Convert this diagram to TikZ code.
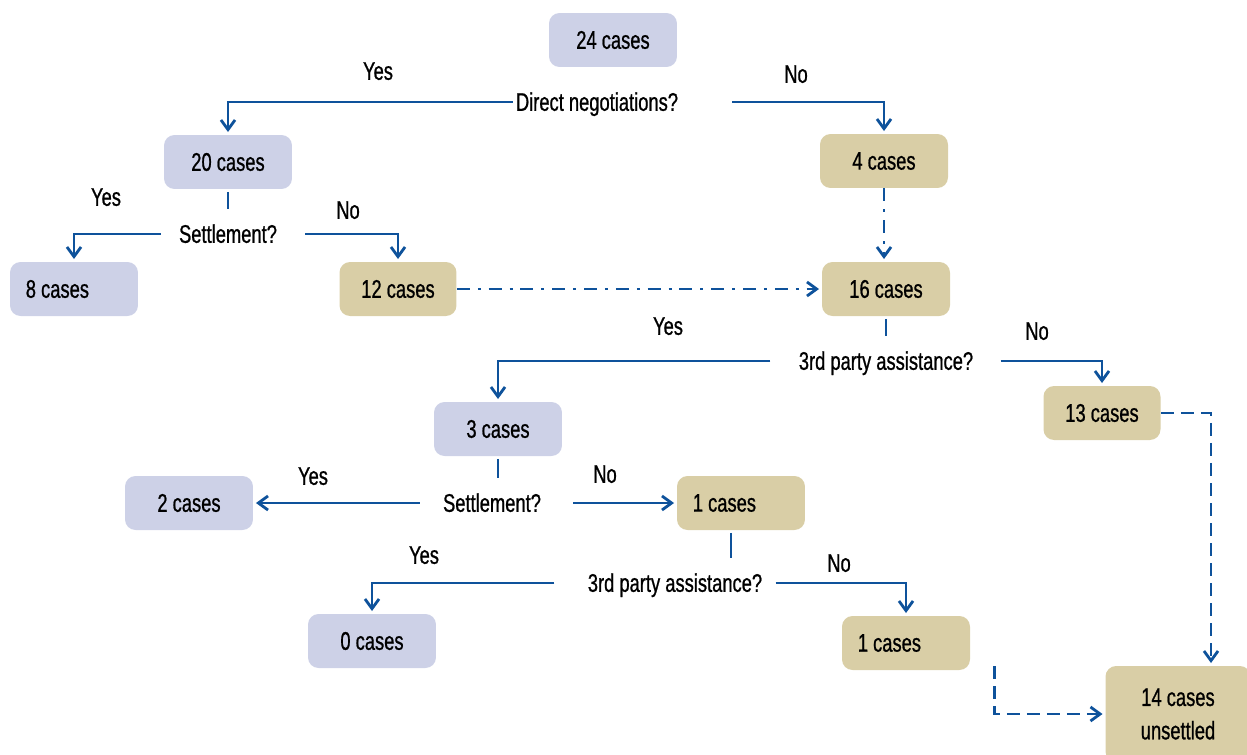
\documentclass[tikz,border=0pt]{standalone}
\usepackage{fontspec}
\setmainfont{Liberation Sans}[FakeStretch=0.72,FakeBold=0.8]
\usepackage{xcolor}
\definecolor{ColA}{RGB}{205,209,231}
\definecolor{ColB}{RGB}{217,206,166}
\definecolor{ColE}{RGB}{14,82,155}
\usepackage{tikz}
\usetikzlibrary{arrows.meta}
\usetikzlibrary{calc}
\tikzstyle{Box}=[rounded corners=6pt,minimum width=2.56cm,minimum height=1.08cm,
inner sep=0pt,font=\fontsize{14.5}{17}\selectfont]
\tikzstyle{BoxA}=[Box,fill=ColA]
\tikzstyle{BoxB}=[Box,fill=ColB]
\tikzstyle{Quest}=[inner sep=0pt,text height=10pt,text depth=0pt,
font=\fontsize{14.5}{17}\selectfont]
\tikzstyle{Answer}=[Quest]
\tikzstyle{Stub}=[draw=ColE,line width=1.6pt]
\tikzstyle{Edge}=[Stub,shorten >=1.5pt,-{Straight Barb[length=5.5pt,width=8pt]}]
\tikzstyle{EdgeDD}=[Edge,dash pattern=on 7.4pt off 4.5pt on 1.7pt off 4.5pt]
\tikzstyle{EdgeD}=[Edge,dash pattern=on 7.4pt off 4pt]

\begin{document}
\begin{tikzpicture}[x=0.02cm,y=-0.02cm]
    \useasboundingbox (0,0) rectangle (1247,754);
    % boxes
    \node[BoxA](n24)at(613,40){24 cases};
    \node[BoxA](n20)at(228,162){20 cases};
    \node[BoxB](n4)at(884,161){4 cases};
    \node[BoxA](n8)at(74,289){8 cases\hspace*{1.3em}};
    \node[BoxB,minimum width=2.34cm](n12)at(398,289){12 cases};
    \node[BoxB](n16)at(886,289){16 cases};
    \node[BoxA](n3)at(498,429){3 cases};
    \node[BoxB,minimum width=2.34cm](n13)at(1102,413){13 cases};
    \node[BoxA](n2)at(189,503){2 cases};
    \node[BoxB](n1a)at(741,503){1 cases\hspace*{1.3em}};
    \node[BoxA](n0)at(372,641){0 cases};
    \node[BoxB](n1b)at(906,643){1 cases\hspace*{1.3em}};
    \node[BoxB,minimum width=2.9cm,minimum height=1.92cm,align=center,
        font=\fontsize{14.5}{19}\selectfont](n14)at(1178,714){14 cases\\unsettled};
    % questions
    \node[Quest](q1)at(597,102){Direct negotiations?};
    \node[Quest](q2)at(228,234){Settlement?};
    \node[Quest](q3)at(886,361){3rd party assistance?};
    \node[Quest](q4)at(492,503){Settlement?};
    \node[Quest](q5)at(675,583){3rd party assistance?};
    % answers
    \node[Answer](y1)at(378,71){Yes};
    \node[Answer](o1)at(796,74){No};
    \node[Answer](y2)at(106,197){Yes};
    \node[Answer](o2)at(348,210){No};
    \node[Answer](y3)at(668,326){Yes};
    \node[Answer](o3)at(1037,331){No};
    \node[Answer](y4)at(313,476){Yes};
    \node[Answer](o4)at(605,474){No};
    \node[Answer](y5)at(424,555){Yes};
    \node[Answer](o5)at(839,563){No};
    % stubs
    \draw[Stub,shorten <=1.5pt,shorten >=9pt](n20.south)--(n20.south |- q2.north);
    \draw[Stub,shorten <=1.5pt,shorten >=9pt](n16.south)--(n16.south |- q3.north);
    \draw[Stub,shorten <=1.5pt,shorten >=9pt](n3.south)--(n3.south |- q4.north);
    \draw[Stub,shorten <=1.5pt,shorten >=9pt]($(n1a.south)+(-10,0)$)--($(n1a.south |- q5.north)+(-10,0)$);
    % edges
    \draw[Edge]($(q1.west)+(-3,0)$)-|(n20.north);
    \draw[Edge]($(q1.east)+(54,0)$)-|(n4.north);
    \draw[Edge]($(q2.west)+(-18,0)$)-|(n8.north);
    \draw[Edge]($(q2.east)+(28,0)$)-|(n12.north);
    \draw[Edge]($(q3.west)+(-28,0)$)-|(n3.north);
    \draw[Edge]($(q3.east)+(27,0)$)-|(n13.north);
    \draw[Edge]($(q4.west)+(-23,0)$)--(q4.west -| n2.east);
    \draw[Edge]($(q4.east)+(32,0)$)--(q4.east -| n1a.west);
    \draw[Edge]($(q5.west)+(-33,0)$)-|(n0.north);
    \draw[Edge]($(q5.east)+(13,0)$)-|(n1b.north);
    \draw[EdgeDD](n12.east)--(n16.west);
    \draw[EdgeDD](n4.south)--(n4.south |- n16.north);
    \draw[EdgeD](n13.east)-|($(n14.north)+(33,0)$);
    \draw[EdgeD]($(n1b.south east)+(24,-4)$)|-(n14);
\end{tikzpicture}
\end{document}
